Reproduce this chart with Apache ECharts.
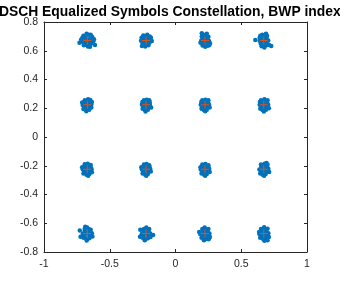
<!DOCTYPE html>
<html><head><meta charset="utf-8">
<script src="https://cdn.jsdelivr.net/npm/echarts@6/dist/echarts.min.js"></script>
<style>html,body{margin:0;padding:0;background:#fff}#c{width:340px;height:283px}</style>
</head><body><div id="c"></div>
<script>
const titleText = "PDSCH Equalized Symbols Constellation, BWP index 1";
const xTicks = [-1, -0.5, 0, 0.5, 1];
const yTicks = [-0.8, -0.6, -0.4, -0.2, 0, 0.2, 0.4, 0.6, 0.8];

const referencePoints = [
  [-0.671,0.671],[-0.224,0.671],[0.224,0.671],[0.671,0.671],
  [-0.671,0.224],[-0.224,0.224],[0.224,0.224],[0.671,0.224],
  [-0.671,-0.224],[-0.224,-0.224],[0.224,-0.224],[0.671,-0.224],
  [-0.671,-0.671],[-0.224,-0.671],[0.224,-0.671],[0.671,-0.671]
];

const row1Symbols = [
  [-0.671,0.671],[-0.650,0.684],[-0.692,0.690],[-0.640,0.650],[-0.703,0.660],[-0.660,0.712],[-0.686,0.641],[-0.633,0.695],[-0.718,0.676],[-0.666,0.630],[-0.645,0.712],[-0.700,0.705],[-0.625,0.666],[-0.681,0.690],[-0.656,0.657],[-0.697,0.638],[-0.612,0.640],[-0.730,0.655],[-0.650,0.628],[-0.676,0.718],[-0.640,0.676],[-0.690,0.658],[-0.661,0.646],[-0.708,0.690],[-0.620,0.680],
  [-0.224,0.671],[-0.205,0.690],[-0.245,0.685],[-0.198,0.655],[-0.250,0.652],[-0.215,0.712],[-0.236,0.640],[-0.190,0.680],[-0.262,0.670],[-0.228,0.700],[-0.206,0.638],[-0.245,0.706],[-0.180,0.668],[-0.233,0.658],[-0.212,0.675],[-0.255,0.633],[-0.196,0.700],[-0.240,0.690],[-0.220,0.642],[-0.202,0.662],[-0.258,0.690],[-0.230,0.630],[-0.187,0.690],
  [0.224,0.671],[0.205,0.690],[0.245,0.680],[0.210,0.650],[0.240,0.655],[0.215,0.712],[0.232,0.640],[0.196,0.672],[0.255,0.668],[0.228,0.700],[0.200,0.700],[0.250,0.698],[0.190,0.655],[0.236,0.690],[0.218,0.660],[0.246,0.635],[0.206,0.636],[0.262,0.652],[0.226,0.628],[0.212,0.680],[0.238,0.718],[0.200,0.722],[0.258,0.640],
  [0.671,0.671],[0.652,0.690],[0.692,0.688],[0.648,0.650],[0.694,0.652],[0.660,0.712],[0.682,0.636],[0.640,0.670],[0.705,0.672],[0.672,0.705],[0.645,0.705],[0.696,0.705],[0.655,0.632],[0.686,0.690],[0.664,0.655],[0.700,0.640],[0.607,0.674],[0.728,0.633],[0.712,0.640],[0.676,0.622],[0.640,0.690],[0.688,0.718],[0.660,0.640]
];
const row2Symbols = [
  [-0.671,0.224],[-0.652,0.240],[-0.690,0.238],[-0.650,0.205],[-0.692,0.206],[-0.665,0.262],[-0.680,0.190],[-0.640,0.226],[-0.706,0.222],[-0.672,0.250],[-0.648,0.258],[-0.690,0.255],[-0.656,0.190],[-0.686,0.215],[-0.662,0.208],[-0.700,0.195],[-0.636,0.244],[-0.710,0.240],[-0.678,0.180],[-0.640,0.205],[-0.660,0.235],[-0.695,0.230],
  [-0.224,0.224],[-0.206,0.240],[-0.242,0.240],[-0.205,0.205],[-0.244,0.206],[-0.218,0.260],[-0.232,0.188],[-0.195,0.224],[-0.255,0.225],[-0.226,0.250],[-0.200,0.255],[-0.240,0.256],[-0.210,0.190],[-0.236,0.215],[-0.215,0.208],[-0.250,0.196],[-0.185,0.205],[-0.228,0.178],[-0.196,0.242],[-0.252,0.244],[-0.214,0.232],
  [0.224,0.224],[0.242,0.240],[0.206,0.240],[0.244,0.205],[0.205,0.206],[0.228,0.260],[0.216,0.188],[0.255,0.224],[0.192,0.225],[0.222,0.250],[0.250,0.255],[0.204,0.256],[0.238,0.190],[0.212,0.215],[0.234,0.208],[0.198,0.196],[0.260,0.205],[0.226,0.180],[0.248,0.242],[0.196,0.244],[0.232,0.232],[0.215,0.196],
  [0.671,0.224],[0.690,0.242],[0.652,0.240],[0.692,0.205],[0.650,0.206],[0.676,0.262],[0.662,0.188],[0.705,0.224],[0.640,0.225],[0.670,0.250],[0.700,0.255],[0.650,0.256],[0.688,0.190],[0.660,0.215],[0.682,0.208],[0.645,0.196],[0.710,0.200],[0.672,0.178],[0.696,0.240],[0.642,0.244],[0.680,0.232],[0.665,0.198]
];
const row3Symbols = [
  [-0.671,-0.224],[-0.652,-0.208],[-0.690,-0.206],[-0.650,-0.240],[-0.692,-0.242],[-0.668,-0.186],[-0.676,-0.262],[-0.638,-0.224],[-0.705,-0.225],[-0.672,-0.198],[-0.645,-0.195],[-0.690,-0.190],[-0.655,-0.258],[-0.684,-0.216],[-0.660,-0.232],[-0.700,-0.254],[-0.636,-0.245],[-0.710,-0.210],[-0.664,-0.270],[-0.644,-0.212],[-0.682,-0.240],[-0.698,-0.230],
  [-0.224,-0.224],[-0.206,-0.208],[-0.242,-0.208],[-0.205,-0.240],[-0.244,-0.242],[-0.220,-0.188],[-0.230,-0.262],[-0.192,-0.222],[-0.256,-0.226],[-0.226,-0.198],[-0.200,-0.196],[-0.240,-0.192],[-0.210,-0.258],[-0.236,-0.215],[-0.215,-0.232],[-0.250,-0.254],[-0.188,-0.240],[-0.260,-0.210],[-0.222,-0.270],[-0.196,-0.212],[-0.234,-0.240],
  [0.224,-0.224],[0.242,-0.208],[0.206,-0.208],[0.244,-0.240],[0.205,-0.242],[0.228,-0.188],[0.218,-0.262],[0.256,-0.222],[0.192,-0.226],[0.222,-0.198],[0.250,-0.196],[0.204,-0.192],[0.238,-0.258],[0.212,-0.215],[0.234,-0.232],[0.198,-0.254],[0.260,-0.244],[0.190,-0.210],[0.226,-0.270],[0.252,-0.212],[0.214,-0.240],
  [0.671,-0.224],[0.690,-0.208],[0.652,-0.208],[0.692,-0.240],[0.651,-0.242],[0.678,-0.186],[0.664,-0.262],[0.706,-0.220],[0.638,-0.226],[0.670,-0.198],[0.700,-0.192],[0.650,-0.192],[0.686,-0.258],[0.660,-0.215],[0.682,-0.232],[0.644,-0.254],[0.712,-0.244],[0.692,-0.180],[0.674,-0.270],[0.698,-0.212],[0.660,-0.240]
];
const row4Symbols = [
  [-0.671,-0.671],[-0.652,-0.655],[-0.690,-0.652],[-0.650,-0.690],[-0.692,-0.692],[-0.672,-0.630],[-0.676,-0.712],[-0.636,-0.670],[-0.705,-0.672],[-0.660,-0.640],[-0.645,-0.645],[-0.690,-0.638],[-0.655,-0.705],[-0.684,-0.662],[-0.660,-0.682],[-0.700,-0.700],[-0.632,-0.692],[-0.728,-0.650],[-0.722,-0.694],[-0.675,-0.720],[-0.648,-0.665],[-0.696,-0.680],[-0.686,-0.625],
  [-0.224,-0.671],[-0.206,-0.655],[-0.242,-0.655],[-0.205,-0.690],[-0.244,-0.692],[-0.222,-0.630],[-0.228,-0.712],[-0.192,-0.672],[-0.256,-0.675],[-0.226,-0.645],[-0.200,-0.640],[-0.240,-0.640],[-0.210,-0.705],[-0.236,-0.662],[-0.215,-0.682],[-0.250,-0.700],[-0.268,-0.645],[-0.270,-0.694],[-0.170,-0.682],[-0.190,-0.695],[-0.234,-0.718],[-0.262,-0.690],
  [0.224,-0.671],[0.242,-0.655],[0.206,-0.655],[0.244,-0.690],[0.205,-0.692],[0.222,-0.630],[0.228,-0.712],[0.258,-0.672],[0.188,-0.675],[0.226,-0.645],[0.250,-0.640],[0.204,-0.640],[0.238,-0.705],[0.212,-0.662],[0.234,-0.682],[0.198,-0.700],[0.262,-0.695],[0.180,-0.660],[0.216,-0.718],[0.252,-0.712],[0.214,-0.688],
  [0.671,-0.671],[0.690,-0.655],[0.652,-0.655],[0.692,-0.690],[0.651,-0.692],[0.674,-0.628],[0.668,-0.712],[0.706,-0.670],[0.638,-0.675],[0.672,-0.645],[0.700,-0.638],[0.650,-0.640],[0.686,-0.705],[0.660,-0.662],[0.682,-0.682],[0.644,-0.700],[0.710,-0.695],[0.636,-0.660],[0.676,-0.722],[0.700,-0.718],[0.660,-0.688]
];

const symbols = row1Symbols.concat(row2Symbols, row3Symbols, row4Symbols);

const FONT = '"Liberation Sans", Arial, Helvetica, sans-serif';
const axisCol = '#262626';
const chart = echarts.init(document.getElementById('c'), null, {renderer: 'canvas'});
const tickStyle = {show: true, inside: true, length: 3, lineStyle: {color: axisCol, width: 1}};
const fmt = v => String(Math.round(v * 10) / 10);
chart.setOption({
  animation: false,
  backgroundColor: '#ffffff',
  title: {
    text: titleText, left: 166, top: 0, textAlign: 'center',
    textStyle: {fontFamily: FONT, fontSize: 13.9, fontWeight: 'bold', color: '#000000'}
  },
  grid: {left: 44, right: 33, top: 22, bottom: 31, containLabel: false},
  xAxis: [
    {type: 'value', min: xTicks[0], max: xTicks[xTicks.length - 1], interval: 0.5, position: 'bottom',
     axisLine: {show: true, onZero: false, lineStyle: {color: axisCol, width: 1}},
     axisTick: tickStyle, splitLine: {show: false},
     axisLabel: {color: axisCol, fontFamily: FONT, fontSize: 10.5, margin: 7, formatter: fmt}},
    {type: 'value', min: xTicks[0], max: xTicks[xTicks.length - 1], interval: 0.5, position: 'top',
     axisLine: {show: true, onZero: false, lineStyle: {color: axisCol, width: 1}},
     axisTick: tickStyle, splitLine: {show: false}, axisLabel: {show: false}}
  ],
  yAxis: [
    {type: 'value', min: yTicks[0], max: yTicks[yTicks.length - 1], interval: 0.2, position: 'left',
     axisLine: {show: true, onZero: false, lineStyle: {color: axisCol, width: 1}},
     axisTick: tickStyle, splitLine: {show: false},
     axisLabel: {color: axisCol, fontFamily: FONT, fontSize: 10.5, margin: 6, formatter: fmt}},
    {type: 'value', min: yTicks[0], max: yTicks[yTicks.length - 1], interval: 0.2, position: 'right',
     axisLine: {show: true, onZero: false, lineStyle: {color: axisCol, width: 1}},
     axisTick: tickStyle, splitLine: {show: false}, axisLabel: {show: false}}
  ],
  series: [
    {type: 'scatter', xAxisIndex: 0, yAxisIndex: 0, data: symbols, symbol: 'circle', symbolSize: 4.5,
     itemStyle: {color: '#0072BD', opacity: 1}, silent: true},
    {type: 'scatter', xAxisIndex: 0, yAxisIndex: 0, data: referencePoints,
     symbol: 'path://M-0.5,-4h1v8h-1zM-4,-0.5h8v1h-8z', symbolSize: 8,
     itemStyle: {color: '#D95319', opacity: 1}, silent: true, z: 5}
  ]
});
</script></body></html>
